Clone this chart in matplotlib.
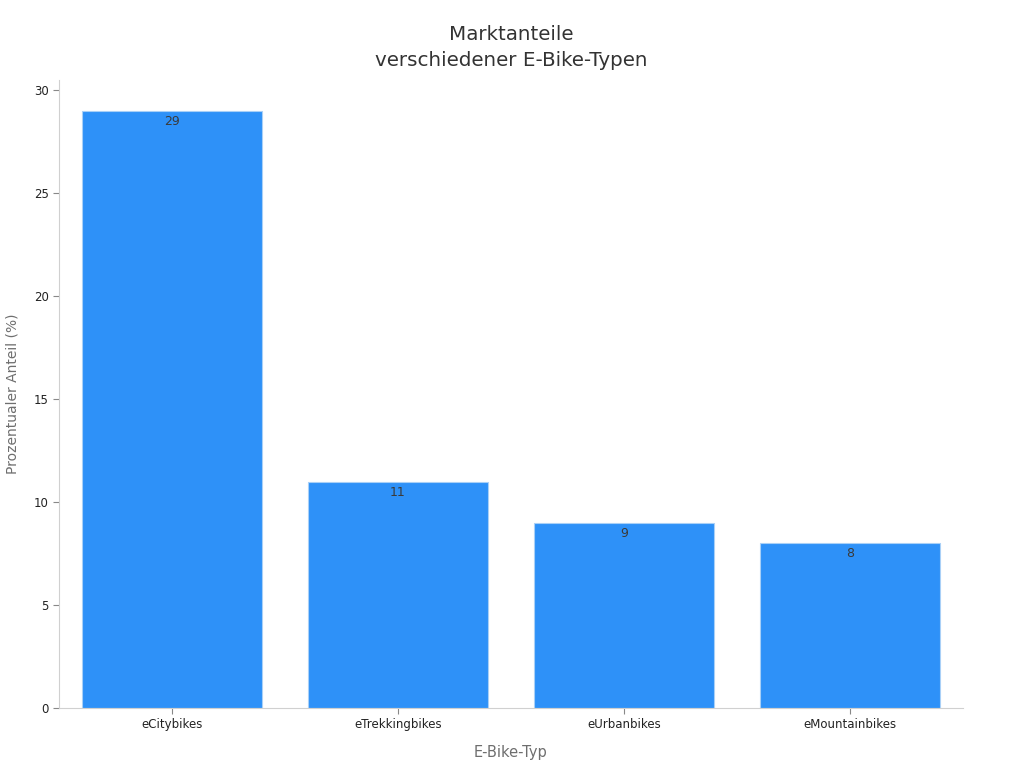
import matplotlib
matplotlib.use("Agg")
import matplotlib.pyplot as plt

# Chart data
categories = ["eCitybikes", "eTrekkingbikes", "eUrbanbikes", "eMountainbikes"]
shares = [29, 11, 9, 8]
yticks = [0, 5, 10, 15, 20, 25, 30]

fig = plt.figure(figsize=(10.24, 7.68), dpi=100)
ax = fig.add_axes([0.0576, 0.0781, 0.8828, 0.8177])

x = range(len(categories))
bars = ax.bar(x, shares, width=0.8, color="#2E91F8", edgecolor="#A9D0F7", linewidth=0.8)

for b, v in zip(bars, shares):
    ax.text(b.get_x() + b.get_width() / 2, v - 0.2, str(v),
            ha="center", va="top", fontsize=9, color="#3a3a3a")

ax.set_xlim(-0.5, 3.5)
ax.set_ylim(0, 30.5)
ax.set_xticks(list(x))
ax.set_xticklabels(categories)
ax.set_yticks(yticks)
ax.tick_params(axis="both", labelsize=8.5, colors="#222222", length=4)
ax.tick_params(axis="both", color="#888888")

for side in ["top", "right"]:
    ax.spines[side].set_visible(False)
for side in ["left", "bottom"]:
    ax.spines[side].set_color("#d0d0d0")

ax.set_xlabel("E-Bike-Typ", fontsize=10.5, color="#6e6e6e", labelpad=10)
ax.set_ylabel("Prozentualer Anteil (%)", fontsize=10, color="#6e6e6e", labelpad=10)
ax.set_title("Marktanteile\nverschiedener E-Bike-Typen", fontsize=14.3, color="#333333",
             pad=10, linespacing=1.45)

fig.savefig("out.png", dpi=100)
